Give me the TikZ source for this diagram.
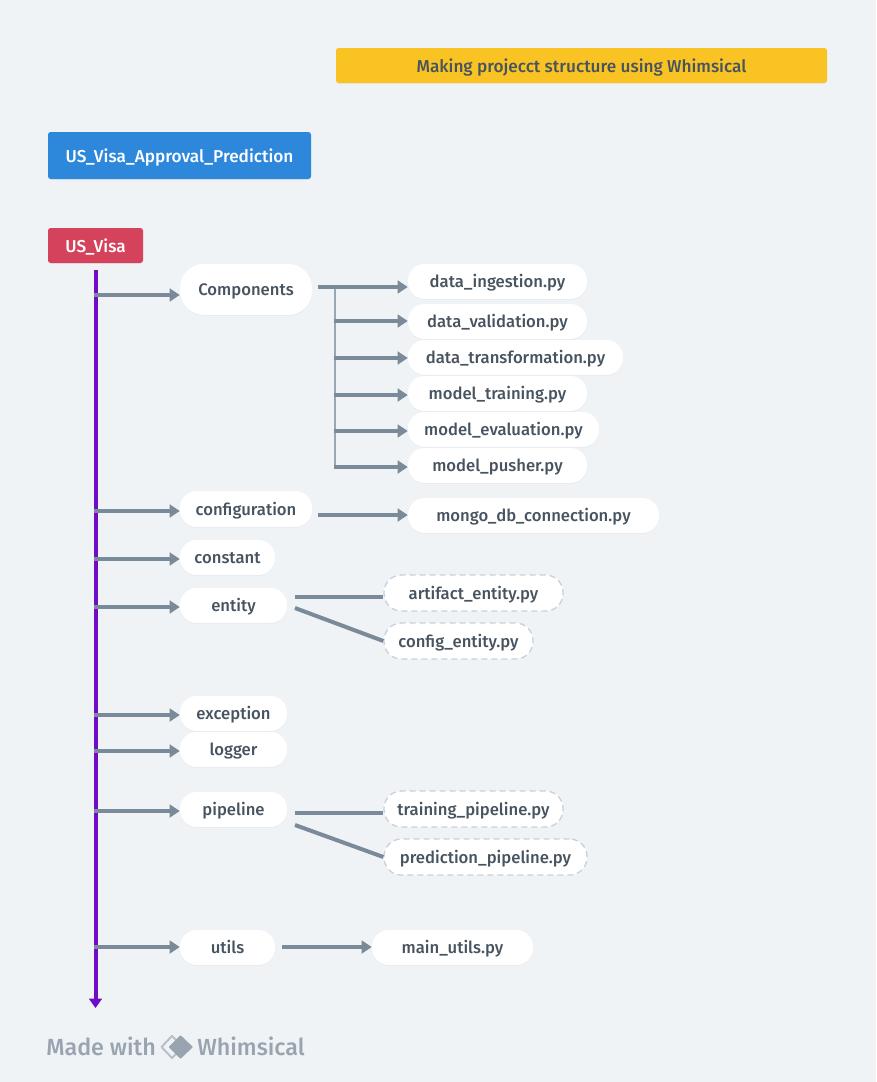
\documentclass[tikz,border=0pt]{standalone}
\usepackage{fontspec}
\setmainfont{Fira Sans Medium}
\usetikzlibrary{arrows.meta,shadows}
\definecolor{pagebg}{HTML}{F0F3F6}
\definecolor{inktext}{HTML}{47535F}
\definecolor{linkgray}{HTML}{7B8A99}
\definecolor{busgray}{HTML}{9AA7B3}
\definecolor{dashgray}{HTML}{C6D1DC}
\definecolor{brandgray}{HTML}{98A5B0}
\definecolor{trunkpurple}{HTML}{6F0CC8}
\definecolor{bannerbox}{HTML}{F9C423}
\definecolor{titlebox}{HTML}{2D88DC}
\definecolor{rootbox}{HTML}{D4435B}
\tikzset{
  x=0.75pt,y=-0.75pt,
  every node/.style={font=\fontsize{12.5pt}{14pt}\selectfont,text=inktext,inner sep=0pt,text height=11.2pt,text depth=1.5pt},
  size/.style 2 args={minimum width=#1*0.75pt,minimum height=#2*0.75pt},
  softshadow/.style={drop shadow={shadow xshift=0pt,shadow yshift=-0.6pt,opacity=0.04,fill=black}},
  pill/.style={fill=white,rounded corners=12.5pt,softshadow},
  bigpill/.style={fill=white,rounded corners=18pt,softshadow},
  dashpill/.style={fill=white,draw=dashgray,line width=1pt,dash pattern=on 4.5pt off 3pt,rounded corners=13pt},
  headbox/.style={rounded corners=2pt,softshadow,font=\fontsize{12.9pt}{14pt}\selectfont,text height=12pt},
  link/.style={draw=linkgray,line width=3pt},
  linkarrow/.style={link,-{Triangle[length=7.5pt,width=9.5pt]}},
  bus/.style={draw=busgray,line width=1.5pt},
  trunk/.style={draw=trunkpurple,line width=3pt,-{Triangle[length=7pt,width=9.5pt]}},
  brand/.style={anchor=west,font=\fontsize{17.5pt}{20pt}\selectfont,text=brandgray,text height=13pt,text depth=0pt},
}
\begin{document}
\begin{tikzpicture}
  \useasboundingbox[fill=pagebg] (0,0) rectangle (876,1082);

  \node[headbox,fill=bannerbox,size={491}{35}] (banner) at (581.5,65.5) {Making projecct structure using Whimsical};
  \node[headbox,fill=titlebox,size={263}{47},text=white] (title) at (179.5,155.5) {US\_Visa\_Approval\_Prediction};
  \node[headbox,fill=rootbox,size={95}{35},text=white] (root) at (95.5,245.5) {US\_Visa};

  \node[bigpill,size={132}{51}] (components) at (246,289.5) {Components};
  \node[pill,size={132}{36}] (configuration) at (246,509) {configuration};
  \node[pill,size={95}{35}] (constant) at (227.5,557.5) {constant};
  \node[pill,size={107}{35}] (entity) at (233.5,605.5) {entity};
  \node[pill,size={107}{35}] (exception) at (233.5,713.5) {exception};
  \node[pill,size={107}{35}] (logger) at (233.5,749.5) {logger};
  \node[pill,size={107}{35}] (pipeline) at (233.5,809.5) {pipeline};
  \node[pill,size={95}{35}] (utils) at (227.5,947.5) {utils};

  \node[pill,size={179}{35}] (ingestion) at (497.5,281.5) {data\_ingestion.py};
  \node[pill,size={179}{35}] (validation) at (497.5,321.5) {data\_validation.py};
  \node[pill,size={215}{35}] (transformation) at (515.5,357.5) {data\_transformation.py};
  \node[pill,size={179}{35}] (training) at (497.5,393.5) {model\_training.py};
  \node[pill,size={191}{35}] (evaluation) at (503.5,429.5) {model\_evaluation.py};
  \node[pill,size={179}{35}] (pusher) at (497.5,465.5) {model\_pusher.py};
  \node[pill,size={251}{35}] (mongo) at (533.5,515.5) {mongo\_db\_connection.py};
  \node[dashpill,size={179}{36}] (artifact) at (473.5,593) {artifact\_entity.py};
  \node[dashpill,size={149}{36}] (config) at (458.5,641) {config\_entity.py};
  \node[dashpill,size={179}{36}] (trainpipe) at (473.5,809) {training\_pipeline.py};
  \node[dashpill,size={203}{36}] (predictpipe) at (485.5,857) {prediction\_pipeline.py};
  \node[pill,size={161}{35}] (mainutils) at (452.5,947.5) {main\_utils.py};

  \coordinate (trunktop) at (95.5,270);
  \coordinate (trunkend) at (95.5,1008);
  \coordinate (tapcomponents) at (93.5,295);
  \coordinate (tapconfiguration) at (93.5,511);
  \coordinate (tapconstant) at (93.5,559);
  \coordinate (tapentity) at (93.5,607);
  \coordinate (tapexception) at (93.5,715);
  \coordinate (taplogger) at (93.5,751);
  \coordinate (tappipeline) at (93.5,811);
  \coordinate (taputils) at (93.5,947);
  \coordinate (compout) at (318,287);
  \coordinate (bustop) at (335,287);
  \coordinate (busbottom) at (335,467);
  \coordinate (busvalidation) at (334,321);
  \coordinate (bustransformation) at (334,358);
  \coordinate (bustraining) at (334,395);
  \coordinate (busevaluation) at (334,431);
  \coordinate (buspusher) at (334,467);
  \coordinate (confout) at (318,515);
  \coordinate (entityouta) at (295,597);
  \coordinate (entityoutb) at (295,608);
  \coordinate (pipeouta) at (295,813);
  \coordinate (pipeoutb) at (295,825);
  \coordinate (utilsout) at (282,947);

  \draw[bus] (bustop) -- (busbottom);
  \draw[trunk] (trunktop) -- (trunkend);

  \draw[linkarrow] (tapcomponents) -- (tapcomponents -| components.west);
  \draw[linkarrow] (tapconfiguration) -- (tapconfiguration -| configuration.west);
  \draw[linkarrow] (tapconstant) -- (tapconstant -| constant.west);
  \draw[linkarrow] (tapentity) -- (tapentity -| entity.west);
  \draw[linkarrow] (tapexception) -- (tapexception -| exception.west);
  \draw[linkarrow] (taplogger) -- (taplogger -| logger.west);
  \draw[linkarrow] (tappipeline) -- (tappipeline -| pipeline.west);
  \draw[linkarrow] (taputils) -- (taputils -| utils.west);

  \draw[linkarrow] (compout) -- (compout -| ingestion.west);
  \draw[linkarrow] (busvalidation) -- (busvalidation -| validation.west);
  \draw[linkarrow] (bustransformation) -- (bustransformation -| transformation.west);
  \draw[linkarrow] (bustraining) -- (bustraining -| training.west);
  \draw[linkarrow] (busevaluation) -- (busevaluation -| evaluation.west);
  \draw[linkarrow] (buspusher) -- (buspusher -| pusher.west);
  \draw[linkarrow] (confout) -- (confout -| mongo.west);
  \draw[linkarrow] (utilsout) -- (utilsout -| mainutils.west);

  \draw[link] (entityouta) -- (entityouta -| artifact.west);
  \draw[link] (entityoutb) -- (config.west);
  \draw[link] (pipeouta) -- (pipeouta -| trainpipe.west);
  \draw[link] (pipeoutb) -- (predictpipe.west);

  \node[brand] (madewith) at (46,1047) {Made with};
  \node[brand] (whimsical) at (197,1047) {Whimsical};
  \draw[draw=brandgray!70,line width=1.5pt,line join=round] (172,1036) -- (161.5,1047) -- (172,1058) -- (183,1047) -- cycle;
  \fill[brandgray,draw=brandgray,line width=1pt,line join=round] (180.5,1036) -- (169.5,1047) -- (180.5,1058) -- (192,1047) -- cycle;
\end{tikzpicture}
\end{document}
